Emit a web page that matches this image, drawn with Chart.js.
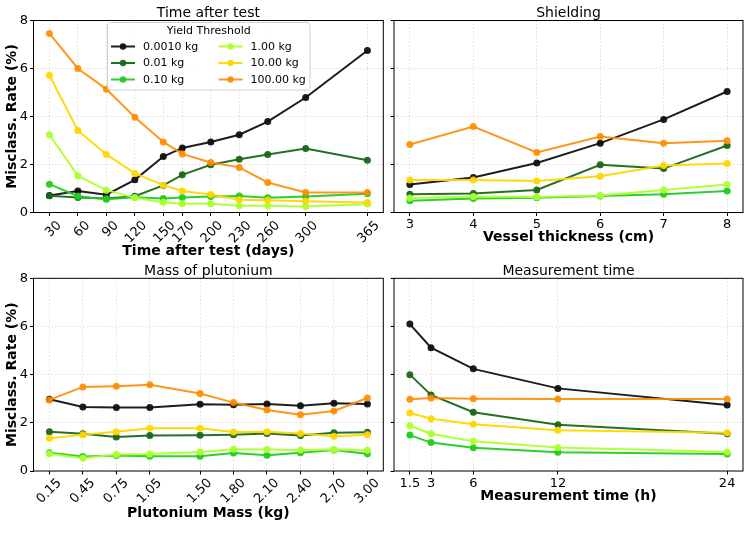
<!DOCTYPE html>
<html><head><meta charset="utf-8">
<script src="https://cdn.jsdelivr.net/npm/chart.js@4"></script>
<style>
html,body{margin:0;padding:0;background:#fff;}
body{width:751px;height:554px;position:relative;overflow:hidden;}
canvas{position:absolute;}
</style></head><body>
<canvas id="c1"></canvas><canvas id="c2"></canvas><canvas id="c3"></canvas><canvas id="c4"></canvas>
<script>
// ---------- data ----------
const seriesNames = ['0.0010 kg','0.01 kg','0.10 kg','1.00 kg','10.00 kg','100.00 kg'];
const seriesColors = ['rgba(17,17,17,0.95)','rgba(26,104,26,0.95)','rgba(34,204,34,0.95)','rgba(173,255,47,0.95)','rgba(255,215,0,0.95)','rgba(255,140,0,0.9)'];

const daysX = [30,60,90,120,150,170,200,230,260,300,365];
const daysTickLabels = ['30','60','90','120','150','170','200','230','260','300','365'];
const days_0001 = [0.71,0.90,0.74,1.36,2.33,2.69,2.94,3.24,3.79,4.79,6.75];
const days_001  = [0.70,0.63,0.58,0.68,1.13,1.57,1.99,2.22,2.42,2.67,2.18];
const days_010  = [1.18,0.68,0.55,0.64,0.58,0.62,0.67,0.69,0.61,0.67,0.78];
const days_1    = [3.24,1.53,0.93,0.61,0.43,0.36,0.36,0.28,0.28,0.25,0.35];
const days_10   = [5.72,3.42,2.42,1.63,1.14,0.90,0.75,0.53,0.51,0.47,0.42];
const days_100  = [7.46,6.00,5.14,3.97,2.94,2.44,2.08,1.88,1.25,0.83,0.83];

const thickX = [3,4,5,6,7,8];
const thickTickLabels = ['3','4','5','6','7','8'];
const thick_0001 = [1.17,1.46,2.06,2.89,3.88,5.04];
const thick_001  = [0.76,0.79,0.94,1.99,1.83,2.79];
const thick_010  = [0.49,0.58,0.61,0.69,0.76,0.90];
const thick_1    = [0.60,0.67,0.65,0.71,0.94,1.17];
const thick_10   = [1.35,1.35,1.31,1.51,1.96,2.04];
const thick_100  = [2.83,3.58,2.50,3.17,2.89,2.99];

const massX = [0.15,0.45,0.75,1.05,1.50,1.80,2.10,2.40,2.70,3.00];
const massTickLabels = ['0.15','0.45','0.75','1.05','1.50','1.80','2.10','2.40','2.70','3.00'];
const mass_0001 = [2.98,2.66,2.64,2.64,2.77,2.75,2.78,2.71,2.81,2.78];
const mass_001  = [1.63,1.55,1.41,1.47,1.48,1.51,1.56,1.47,1.59,1.61];
const mass_010  = [0.76,0.60,0.64,0.61,0.61,0.75,0.65,0.76,0.87,0.72];
const mass_1    = [0.72,0.53,0.69,0.71,0.79,0.90,0.89,0.87,0.89,0.86];
const mass_10   = [1.36,1.51,1.63,1.77,1.77,1.62,1.63,1.56,1.44,1.51];
const mass_100  = [2.95,3.49,3.52,3.58,3.22,2.84,2.53,2.34,2.49,3.03];

const measX = [1.5,3,6,12,24];
const measTickLabels = ['1.5','3','6','12','24'];
const meas_0001 = [6.10,5.12,4.24,3.43,2.74];
const meas_001  = [4.00,3.16,2.44,1.92,1.55];
const meas_010  = [1.49,1.18,0.97,0.78,0.71];
const meas_1    = [1.88,1.55,1.23,0.98,0.79];
const meas_10   = [2.41,2.17,1.94,1.69,1.59];
const meas_100  = [2.98,3.03,3.00,2.99,2.99];

const yTicks = [0,2,4,6,8];

// ---------- drawing ----------
Chart.defaults.font.family = 'DejaVu Sans';
Chart.defaults.color = '#000';

const framePlugin = {
  id: 'frame',
  afterDraw(chart) {
    const a = chart.chartArea, ctx = chart.ctx;
    ctx.save();
    ctx.strokeStyle = '#000'; ctx.lineWidth = 1;
    ctx.strokeRect(a.left, a.top, a.right - a.left, a.bottom - a.top);
    ctx.restore();
  }
};
const titlePlugin = {
  id: 'panelTitle',
  afterDraw(chart, args, opts) {
    const a = chart.chartArea, ctx = chart.ctx;
    ctx.save();
    ctx.font = '14px "DejaVu Sans"'; ctx.fillStyle = '#000';
    ctx.textAlign = 'center'; ctx.textBaseline = 'alphabetic';
    ctx.fillText(opts.text, (a.left + a.right) / 2, a.top - 3.5);
    ctx.restore();
  }
};
const legendPlugin = {
  id: 'colLegend',
  afterDraw(chart, args, opts) {
    if (!opts.show) return;
    const ctx = chart.ctx;
    const bx = 107.5, by = 22.5, bw = 202.5, bh = 67.5;
    ctx.save();
    ctx.fillStyle = 'rgba(255,255,255,0.85)';
    ctx.strokeStyle = '#d0d0d0'; ctx.lineWidth = 1;
    ctx.beginPath();
    if (ctx.roundRect) ctx.roundRect(bx, by, bw, bh, 3); else ctx.rect(bx, by, bw, bh);
    ctx.fill(); ctx.stroke();
    ctx.fillStyle = '#000';
    ctx.font = '11px "DejaVu Sans"';
    ctx.textAlign = 'center'; ctx.textBaseline = 'middle';
    ctx.fillText('Yield Threshold', bx + bw / 2, 31.5);
    ctx.textAlign = 'left';
    const ds = chart.data.datasets;
    const colLine = [111, 218.5], colText = [143, 250.5], rows = [46.5, 63, 79.5];
    ds.forEach((d, i) => {
      const c = Math.floor(i / 3), r = i % 3;
      const x0 = colLine[c], y = rows[r];
      ctx.strokeStyle = d.borderColor; ctx.lineWidth = 2;
      ctx.beginPath(); ctx.moveTo(x0, y); ctx.lineTo(x0 + 24, y); ctx.stroke();
      ctx.fillStyle = d.borderColor;
      ctx.beginPath(); ctx.arc(x0 + 12, y, 3.2, 0, Math.PI * 2); ctx.fill();
      ctx.fillStyle = '#000';
      ctx.fillText(d.label, colText[c], y + 0.5);
    });
    ctx.restore();
  }
};

function makePanel(id, box, area, cfg) {
  const cv = document.getElementById(id);
  cv.width = box.w; cv.height = box.h;
  cv.style.left = box.x + 'px'; cv.style.top = box.y + 'px';
  cv.style.width = box.w + 'px'; cv.style.height = box.h + 'px';
  const yW = area.l - box.x;
  const xH = box.y + box.h - area.b;
  const titleLH = 14 * 1.2;
  const xTitlePad = box.y + box.h - cfg.xTitleY - titleLH / 2;
  const gridCommon = {
    color: 'rgba(0,0,0,0.16)', lineWidth: 0.8,
    tickColor: '#000', tickLength: 3.5, tickWidth: 1, drawTicks: true
  };
  new Chart(cv, {
    type: 'line',
    data: {
      datasets: cfg.series.map((ys, i) => ({
        label: seriesNames[i],
        data: cfg.xs.map((x, j) => ({ x: x, y: ys[j] })),
        borderColor: seriesColors[i],
        backgroundColor: seriesColors[i],
        pointBackgroundColor: seriesColors[i],
        borderWidth: 2, pointRadius: 3.5, pointBorderWidth: 0, pointHoverRadius: 3.5,
        tension: 0, fill: false, order: 10 - i
      }))
    },
    options: {
      responsive: false, animation: false, events: [],
      layout: { padding: { left: 0, top: area.t - box.y, right: box.x + box.w - area.r, bottom: 0 } },
      plugins: {
        legend: { display: false }, tooltip: { enabled: false },
        panelTitle: { text: cfg.title },
        colLegend: { show: !!cfg.legend }
      },
      scales: {
        x: {
          type: 'linear', min: cfg.xmin, max: cfg.xmax,
          afterBuildTicks: s => { s.ticks = cfg.xs.map(v => ({ value: v })); },
          afterFit: s => { s.height = xH; },
          ticks: {
            autoSkip: false, font: { size: 13 }, color: '#000',
            minRotation: cfg.rot, maxRotation: cfg.rot, padding: cfg.tickPad,
            labelOffset: cfg.labelOffset || 0,
            callback: (v, i) => cfg.labels[i]
          },
          grid: gridCommon,
          border: { display: false, dash: [1.5, 2] },
          title: {
            display: true, text: cfg.xTitle, color: '#000',
            font: { size: 14, weight: 'bold', lineHeight: 1.2 },
            padding: { top: 0, bottom: xTitlePad }
          }
        },
        y: {
          min: 0, max: 8,
          afterBuildTicks: s => { s.ticks = yTicks.map(v => ({ value: v })); },
          afterFit: s => { s.width = yW; },
          ticks: { display: cfg.showY, font: { size: 13 }, color: '#000', padding: 2 },
          grid: gridCommon,
          border: { display: false, dash: [1.5, 2] },
          title: {
            display: cfg.showY, text: 'Misclass. Rate (%)', color: '#000',
            font: { size: 14, weight: 'bold', lineHeight: 1.2 },
            padding: { top: 4.1, bottom: 0 }
          }
        }
      }
    },
    plugins: [framePlugin, titlePlugin, legendPlugin]
  });
}

makePanel('c1', { x: 0, y: 0, w: 388, h: 262 }, { l: 33.5, t: 20.5, r: 383.3, b: 212.5 }, {
  title: 'Time after test', xTitle: 'Time after test (days)', xTitleY: 251.7,
  xs: daysX, labels: daysTickLabels, xmin: 13.25, xmax: 381.75, rot: 45, tickPad: 2, labelOffset: 10,
  showY: true, legend: true,
  series: [days_0001, days_001, days_010, days_1, days_10, days_100]
});
makePanel('c2', { x: 388, y: 0, w: 363, h: 262 }, { l: 394, t: 20.5, r: 743, b: 212.5 }, {
  title: 'Shielding', xTitle: 'Vessel thickness (cm)', xTitleY: 237.5,
  xs: thickX, labels: thickTickLabels, xmin: 2.75, xmax: 8.25, rot: 0, tickPad: 1,
  showY: false,
  series: [thick_0001, thick_001, thick_010, thick_1, thick_10, thick_100]
});
makePanel('c3', { x: 0, y: 262, w: 388, h: 292 }, { l: 33.5, t: 278.3, r: 383.3, b: 471 }, {
  title: 'Mass of plutonium', xTitle: 'Plutonium Mass (kg)', xTitleY: 513.3,
  xs: massX, labels: massTickLabels, xmin: 0.0075, xmax: 3.1425, rot: 45, tickPad: 1, labelOffset: 10,
  showY: true,
  series: [mass_0001, mass_001, mass_010, mass_1, mass_10, mass_100]
});
makePanel('c4', { x: 388, y: 262, w: 363, h: 292 }, { l: 394, t: 278.3, r: 743, b: 471 }, {
  title: 'Measurement time', xTitle: 'Measurement time (h)', xTitleY: 496.3,
  xs: measX, labels: measTickLabels, xmin: 0.375, xmax: 25.125, rot: 0, tickPad: 1,
  showY: false,
  series: [meas_0001, meas_001, meas_010, meas_1, meas_10, meas_100]
});
</script>
</body></html>
